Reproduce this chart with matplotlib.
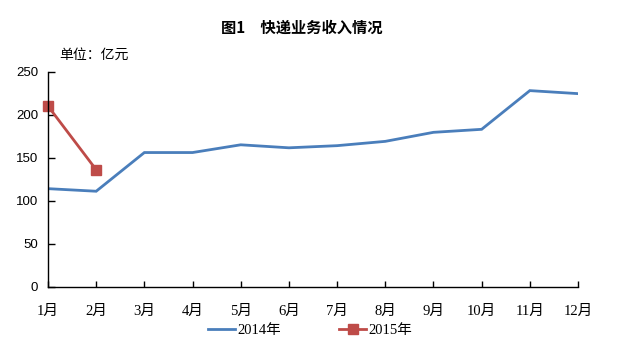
import matplotlib
matplotlib.use("Agg")
import matplotlib.pyplot as plt
from matplotlib.lines import Line2D

months = [f"{i}月" for i in range(1, 13)]
sales_2014 = [114, 111, 156, 156, 165, 161.5, 164, 169, 179.5, 183, 228, 224.5]
sales_2015 = [210, 136]
series_labels = ["2014年", "2015年"]
y_ticks = [0, 50, 100, 150, 200, 250]

CJK = ["Noto Sans CJK SC", "DejaVu Sans"]
SERIF_CJK = ["Liberation Serif", "Noto Sans CJK SC"]

fig = plt.figure(figsize=(6.17, 3.57), dpi=100)
ax = fig.add_axes([48/617, 1-286.7/357, (578-48)/617, (286.7-71.7)/357])

x = list(range(1, 13))
ax.plot(x, sales_2014, color="#4a7ebb", lw=2.0, solid_joinstyle="miter")
ax.plot(x[:len(sales_2015)], sales_2015, color="#be4b48", lw=2.0,
        marker="s", markersize=6.5, clip_on=False)

ax.set_xlim(1, 12)
ax.set_ylim(0, 250)
ax.set_yticks(y_ticks)
ax.set_yticklabels([str(v) for v in y_ticks], family=["Liberation Sans"], fontsize=9.5)
ax.set_xticks(x)
ax.set_xticklabels(months, family=SERIF_CJK, fontsize=10.5)
for s in ["top", "right"]:
    ax.spines[s].set_visible(False)
for s in ["left", "bottom"]:
    ax.spines[s].set_linewidth(1.0)
    ax.spines[s].set_color("black")
ax.tick_params(axis="y", direction="in", length=5, width=1, pad=7)
ax.tick_params(axis="x", direction="in", length=4, width=1, pad=13)

fig.text(302/617, 1-27.3/357, "图1　快递业务收入情况", family=CJK, fontsize=11,
         fontweight="bold", ha="center", va="center")
fig.text(59/617, 1-55/357, "单位：亿元", family=CJK, fontsize=10,
         ha="left", va="center")

handles = [Line2D([], [], color="#4a7ebb", lw=2.0),
           Line2D([], [], color="#be4b48", lw=2.0, marker="s", markersize=6.5)]
fig.legend(handles, series_labels, loc="center", bbox_to_anchor=(310/617, 1-330/357),
           ncol=2, frameon=False, prop={"family": SERIF_CJK, "size": 10.5},
           handlelength=1.85, handletextpad=0.15, columnspacing=4.0)

fig.savefig("out.png", dpi=100, facecolor="white")
